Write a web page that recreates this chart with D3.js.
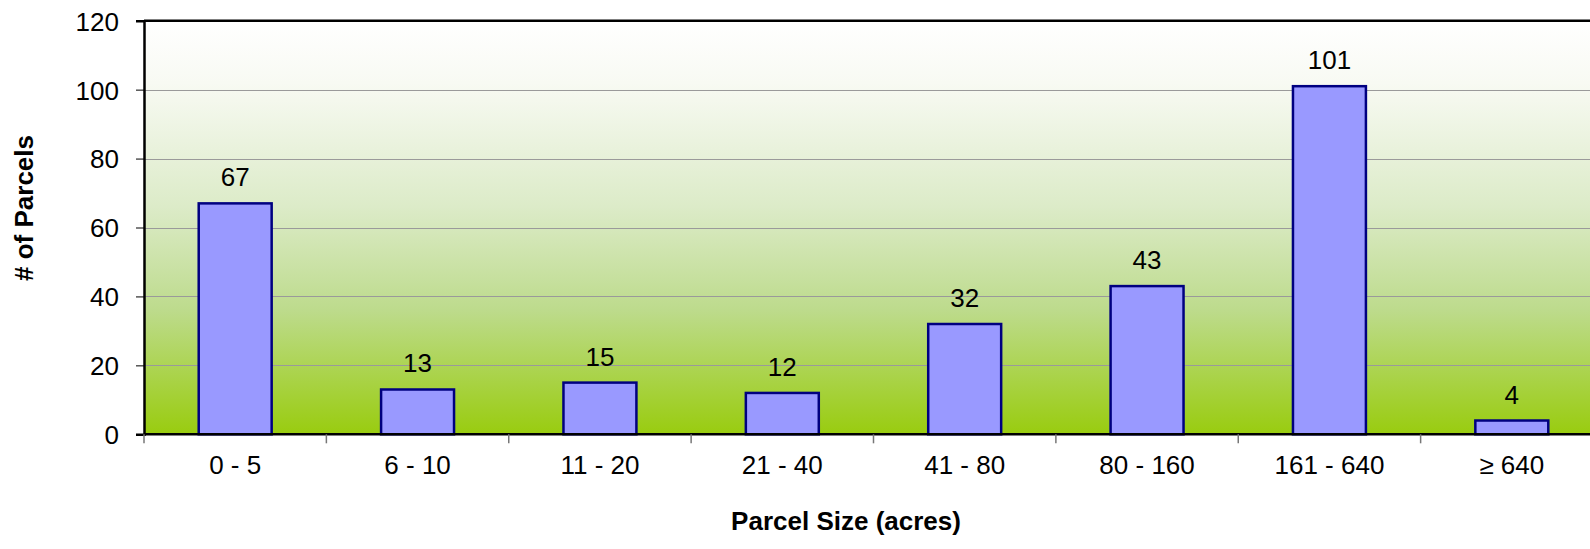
<!DOCTYPE html>
<html>
<head>
<meta charset="utf-8">
<script src="https://cdn.jsdelivr.net/npm/d3@7"></script>
<style>
  html, body { margin: 0; padding: 0; background: #ffffff; }
  svg { display: block; }
  text { font-family: "Liberation Sans", Arial, sans-serif; fill: #000; }
</style>
</head>
<body>
<svg id="chart" width="1590" height="549"></svg>
<script>
// Parcel counts by size class
const categories = ["0 - 5", "6 - 10", "11 - 20", "21 - 40", "41 - 80", "80 - 160", "161 - 640", "\u2265 640"];
const parcelCounts = [67, 13, 15, 12, 32, 43, 101, 4];
const yTicks = [0, 20, 40, 60, 80, 100, 120];

const width = 1590, height = 549;
const plot = { left: 144, right: 1603, top: 20.7, bottom: 434.3 };
const fontSize = 26;

const svg = d3.select("#chart");

const x = d3.scaleBand()
  .domain(categories)
  .range([plot.left, plot.right])
  .paddingInner(0.6)
  .paddingOuter(0.3);

const xOuter = d3.scaleBand()
  .domain(categories)
  .range([plot.left, plot.right]);

const y = d3.scaleLinear()
  .domain([0, 120])
  .range([plot.bottom, plot.top]);

// Background gradient: white at top fading to lime green at the baseline
const defs = svg.append("defs");
const grad = defs.append("linearGradient")
  .attr("id", "bg")
  .attr("x1", 0).attr("y1", 0).attr("x2", 0).attr("y2", 1);
[
  [0, "#ffffff"],
  [0.15, "#f8faf3"],
  [0.45, "#dcebc8"],
  [0.7, "#bddb8c"],
  [1, "#99cc0f"]
].forEach(([o, c]) => grad.append("stop").attr("offset", o).attr("stop-color", c));

svg.append("rect")
  .attr("x", plot.left).attr("y", plot.top)
  .attr("width", plot.right - plot.left)
  .attr("height", plot.bottom - plot.top)
  .attr("fill", "url(#bg)");

// Horizontal gridlines
svg.append("g")
  .selectAll("line")
  .data(yTicks.filter(d => d > 0 && d < 120))
  .join("line")
  .attr("x1", plot.left).attr("x2", plot.right)
  .attr("y1", d => Math.round(y(d)) + 0.5).attr("y2", d => Math.round(y(d)) + 0.5)
  .attr("stroke", "#9a9a9a")
  .attr("stroke-width", 1);

// Bars
svg.append("g")
  .selectAll("rect")
  .data(parcelCounts)
  .join("rect")
  .attr("x", (d, i) => x(categories[i]))
  .attr("y", d => y(d))
  .attr("width", x.bandwidth())
  .attr("height", d => y(0) - y(d))
  .attr("fill", "#9999ff")
  .attr("stroke", "#000080")
  .attr("stroke-width", 2.5);

// Value labels
svg.append("g")
  .selectAll("text")
  .data(parcelCounts)
  .join("text")
  .attr("x", (d, i) => x(categories[i]) + x.bandwidth() / 2)
  .attr("y", d => y(d) - 17)
  .attr("text-anchor", "middle")
  .attr("font-size", fontSize)
  .text(d => d);

// Plot frame: top border
svg.append("line")
  .attr("x1", plot.left).attr("x2", plot.right)
  .attr("y1", plot.top).attr("y2", plot.top)
  .attr("stroke", "#000").attr("stroke-width", 2.5);

// Y axis
const yAxis = d3.axisLeft(y).tickValues(yTicks).tickSize(8).tickPadding(17);
const gy = svg.append("g")
  .attr("transform", `translate(${plot.left},0)`)
  .call(yAxis);
gy.select(".domain").attr("stroke", "#000").attr("stroke-width", 2.5);
gy.selectAll(".tick line").attr("stroke", "#000").attr("stroke-width", 1);
gy.selectAll(".tick text")
  .attr("font-family", "Liberation Sans, Arial, sans-serif")
  .attr("font-size", fontSize)
  .attr("dy", "0.36em")
  .attr("fill", "#000");

// X axis: ticks sit on category boundaries
const boundaries = categories.map(c => xOuter(c));
const gx = svg.append("g");
gx.append("line")
  .attr("x1", plot.left).attr("x2", plot.right)
  .attr("y1", plot.bottom).attr("y2", plot.bottom)
  .attr("stroke", "#000").attr("stroke-width", 2.5);
gx.selectAll("line.tick")
  .data(boundaries)
  .join("line")
  .attr("class", "tick")
  .attr("x1", d => d).attr("x2", d => d)
  .attr("y1", plot.bottom).attr("y2", plot.bottom + 9)
  .attr("stroke", "#777").attr("stroke-width", 1.5);
gx.selectAll("text")
  .data(categories)
  .join("text")
  .attr("x", d => xOuter(d) + xOuter.bandwidth() / 2)
  .attr("y", 474)
  .attr("text-anchor", "middle")
  .attr("font-size", fontSize)
  .text(d => d);

// Axis titles
svg.append("text")
  .attr("x", 846)
  .attr("y", 530)
  .attr("text-anchor", "middle")
  .attr("font-size", fontSize)
  .attr("font-weight", "bold")
  .text("Parcel Size (acres)");

svg.append("text")
  .attr("transform", "translate(33,208) rotate(-90)")
  .attr("text-anchor", "middle")
  .attr("font-size", fontSize)
  .attr("font-weight", "bold")
  .text("# of Parcels");
</script>
</body>
</html>
